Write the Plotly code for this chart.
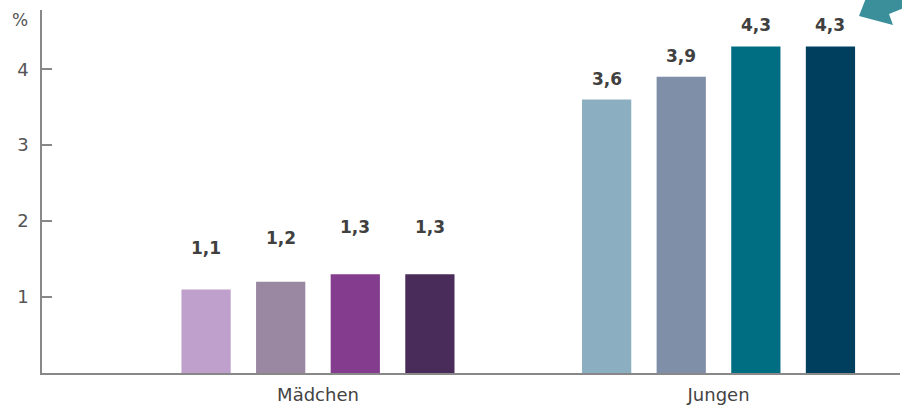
import plotly.graph_objects as go

categories = ["Mädchen", "Jungen"]
series_names = ["S1", "S2", "S3", "S4"]
values = {
    "S1": [1.1, 3.6],
    "S2": [1.2, 3.9],
    "S3": [1.3, 4.3],
    "S4": [1.3, 4.3],
}
value_labels = {
    "S1": ["1,1", "3,6"],
    "S2": ["1,2", "3,9"],
    "S3": ["1,3", "4,3"],
    "S4": ["1,3", "4,3"],
}
y_tickvals = [1, 2, 3, 4]
y_ticktext = ["1", "2", "3", "4"]

# styles
colors = {
    "S1": ["#bf9fcc", "#8bafc0"],
    "S2": ["#9a87a1", "#7f8fa8"],
    "S3": ["#843d8e", "#006e82"],
    "S4": ["#4a2c5a", "#00405e"],
}
label_shift = {
    "S1": [41, 21],
    "S2": [44, 21],
    "S3": [47, 21],
    "S4": [47, 21],
}

W, H = 902, 408
ML, MR, MT, MB = 42, 2, 10, 35
FONT = "DejaVu Sans"

fig = go.Figure()
for s in series_names:
    fig.add_trace(go.Bar(
        x=categories, y=values[s], name=s,
        marker=dict(color=colors[s], line=dict(width=0)),
        showlegend=False,
    ))

fig.update_layout(
    width=W, height=H,
    margin=dict(l=ML, r=MR, t=MT, b=MB),
    barmode="group", bargap=0.255, bargroupgap=0.34,
    plot_bgcolor="white", paper_bgcolor="white",
    font=dict(family=FONT, color="#444444"),
    xaxis=dict(
        range=[-0.689, 1.453], showgrid=False, zeroline=False,
        showline=True, linecolor="#888888", linewidth=1.5,
        ticks="", tickfont=dict(size=18, color="#444444"),
        ticklabelstandoff=5,
    ),
    yaxis=dict(
        range=[0, 4.78], showgrid=False, zeroline=False,
        showline=True, linecolor="#888888", linewidth=1.5,
        ticks="inside", ticklen=10, tickcolor="#888888", tickwidth=1.5,
        tickvals=y_tickvals, ticktext=y_ticktext,
        tickfont=dict(size=18, color="#555555"), ticklabelstandoff=8,
    ),
)

n = len(series_names)
for i, s in enumerate(series_names):
    for j, c in enumerate(categories):
        fig.add_annotation(
            x=c, y=values[s][j], xref="x", yref="y",
            text="<b>" + value_labels[s][j] + "</b>",
            showarrow=False, yshift=label_shift[s][j],
            xshift=(i - (n - 1) / 2) * 74.5,
            font=dict(size=17, color="#404040", family=FONT),
        )

fig.add_annotation(
    x=0, y=1, xref="paper", yref="paper", text="%",
    showarrow=False, xanchor="right", yanchor="middle",
    xshift=-12, yshift=-10,
    font=dict(size=17, color="#555555", family=FONT),
)

# decorative arrow top-right (page pixel coords -> paper)
pw, ph = W - ML - MR, H - MT - MB
def px(x, y):
    return (x - ML) / pw, (H - MB - y) / ph

pts = [(859, 16), (866, -2), (904, -2), (904, 8), (889, 14), (893, 25)]
path = "M " + " L ".join(f"{px(x, y)[0]:.4f},{px(x, y)[1]:.4f}" for x, y in pts) + " Z"
fig.add_shape(type="path", path=path, xref="paper", yref="paper",
              fillcolor="#3a8f9b", line=dict(width=0), layer="above")

fig.write_html(
    "out.html",
    config={"displayModeBar": False},
    post_script="document.body.style.margin='0';document.body.style.overflow='hidden';",
)
